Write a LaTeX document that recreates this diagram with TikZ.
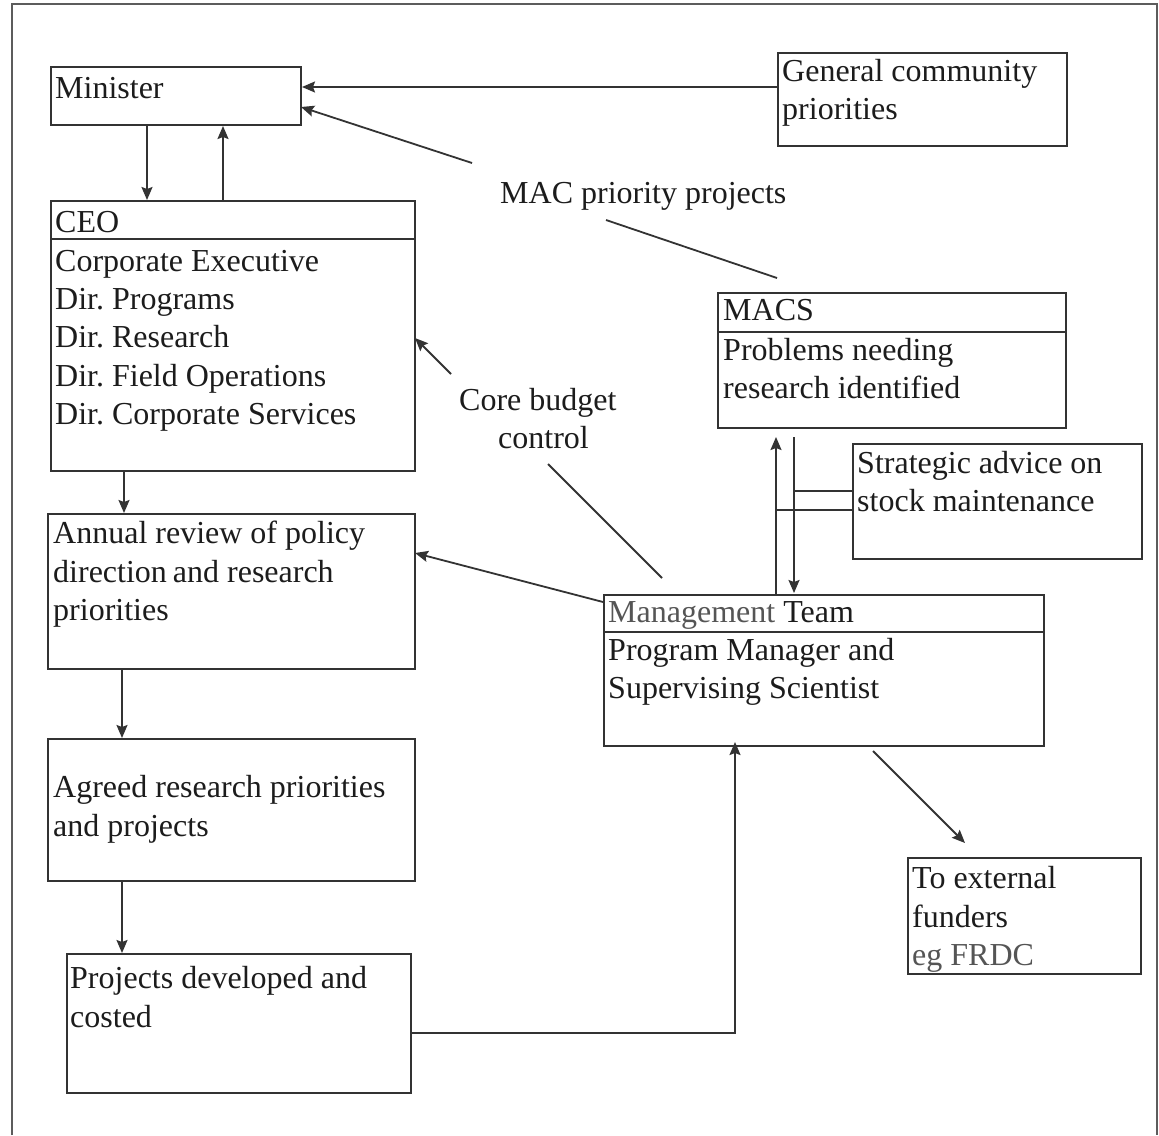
\documentclass[tikz,border=0pt]{standalone}
\usepackage{fontspec}
\setmainfont{Liberation Serif}
\usetikzlibrary{arrows.meta}
\definecolor{linec}{HTML}{333333}
\definecolor{textc}{HTML}{1C1C1C}
\definecolor{grayt}{HTML}{555555}
\frenchspacing
\begin{document}
\begin{tikzpicture}[x=1pt,y=-1pt,
  box/.style={draw=linec,line width=2pt,inner sep=0pt,anchor=north west},
  txt/.style={inner sep=0pt,anchor=base west,text=textc,font=\fontsize{32}{38}\selectfont},
  arr/.style={draw=linec,line width=1.8pt,-{Stealth[length=13pt,width=11pt,inset=2pt]}},
  ln/.style={draw=linec,line width=1.8pt},
  frame/.style={draw=linec!80,line width=1.6pt}]
\useasboundingbox (0,0) rectangle (1159,1135);
\fill[white] (0,0) rectangle (1159,1135);
% outer frame
\coordinate (fBL) at (12,1135);
\coordinate (fTL) at (12,4);
\coordinate (fTR) at (1157,4);
\coordinate (fBR) at (1157,1135);
\draw[frame] (fBL) -- (fTL) -- (fTR) -- (fBR);

% boxes
\node[box,minimum width=250pt,minimum height=58pt] (minister) at (50,66) {};
\node[box,minimum width=289pt,minimum height=93pt] (general) at (777,52) {};
\node[box,minimum width=364pt,minimum height=270pt] (ceo) at (50,200) {};
\node[box,minimum width=367pt,minimum height=155pt] (annual) at (47,513) {};
\node[box,minimum width=367pt,minimum height=142pt] (agreed) at (47,738) {};
\node[box,minimum width=344pt,minimum height=139pt] (projects) at (66,953) {};
\node[box,minimum width=348pt,minimum height=135pt] (macs) at (717,292) {};
\node[box,minimum width=289pt,minimum height=115pt] (strategic) at (852,443) {};
\node[box,minimum width=440pt,minimum height=151pt] (mt) at (603,594) {};
\node[box,minimum width=233pt,minimum height=116pt] (external) at (907,857) {};

% header lines
\coordinate (ceoH) at (0,239);
\coordinate (macsH) at (0,332);
\coordinate (mtH) at (0,632);
\draw[ln] (ceo.west |- ceoH) -- (ceo.east |- ceoH);
\draw[ln] (macs.west |- macsH) -- (macs.east |- macsH);
\draw[ln] (mt.west |- mtH) -- (mt.east |- mtH);

% texts
\node[txt] (tmin) at (55,98) {Minister};
\node[txt] (tgen1) at (782,81) {General community};
\node[txt] (tgen2) at (782,119) {priorities};
\node[txt] (tceo0) at (55,232) {CEO};
\node[txt] (tceo1) at (55,271) {Corporate Executive};
\node[txt] (tceo2) at (55,309) {Dir. Programs};
\node[txt] (tceo3) at (55,347) {Dir. Research};
\node[txt] (tceo4) at (55,386) {Dir. Field Operations};
\node[txt] (tceo5) at (55,424) {Dir. Corporate Services};
\node[txt] (maclab) at (500,203) {MAC priority projects};
\node[txt] (tmacs0) at (723,320) {MACS};
\node[txt] (tmacs1) at (723,360) {Problems needing};
\node[txt] (tmacs2) at (723,398) {research identified};
\node[txt] (core1) at (459,410) {Core budget};
\node[txt] (core2) at (498,448) {control};
\node[txt] (tstr1) at (857,473) {Strategic advice on};
\node[txt] (tstr2) at (857,511) {stock maintenance};
\node[txt] (tann1) at (53,543) {Annual review of policy};
\node[txt] (tann2) at (53,582) {direction\hspace{-2pt} and research};
\node[txt] (tann3) at (53,620) {priorities};
\node[txt] (tmt0) at (608,622) {\textcolor{grayt}{Management} Team};
\node[txt] (tmt1) at (608,660) {Program Manager and};
\node[txt] (tmt2) at (608,698) {Supervising Scientist};
\node[txt] (tagr1) at (53,797) {Agreed research priorities};
\node[txt] (tagr2) at (53,836) {and projects};
\node[txt] (tpro1) at (70,988) {Projects developed and};
\node[txt] (tpro2) at (70,1027) {costed};
\node[txt] (text1) at (912,888) {To external};
\node[txt] (text2) at (912,927) {funders};
\node[txt,text=grayt] (text3) at (912,965) {eg FRDC};

% connector helper coordinates
\coordinate (x147) at (147,0);
\coordinate (x223) at (223,0);
\coordinate (y87) at (0,87);
\coordinate (x124) at (124,0);
\coordinate (x122) at (122,0);
\coordinate (y1033) at (0,1033);
\coordinate (x735) at (735,0);
\coordinate (x776) at (776,0);
\coordinate (x794) at (794,0);
\coordinate (y491) at (0,491);
\coordinate (y510) at (0,510);
\coordinate (macA) at (472,163);
\coordinate (minIn) at (301,107);
\coordinate (macB) at (606,220);
\coordinate (macC) at (777,278);
\coordinate (coreA) at (451,374);
\coordinate (ceoIn) at (415,338);
\coordinate (coreB) at (548,464);
\coordinate (coreC) at (662,578);
\coordinate (mtOut) at (603,602);
\coordinate (annIn) at (415,553);
\coordinate (mtOut2) at (873,751);
\coordinate (extIn) at (965,843);

% connectors
\draw[arr] (minister.south -| x147) -- (ceo.north -| x147);
\draw[arr] (ceo.north -| x223) -- (minister.south -| x223);
\draw[arr] (general.west |- y87) -- (minister.east |- y87);
\draw[arr] (macA) -- (minIn);
\draw[ln] (macB) -- (macC);
\draw[arr] (coreA) -- (ceoIn);
\draw[ln] (coreB) -- (coreC);
\draw[arr] (mtOut) -- (annIn);
\draw[arr] (ceo.south -| x124) -- (annual.north -| x124);
\draw[arr] (annual.south -| x122) -- (agreed.north -| x122);
\draw[arr] (agreed.south -| x122) -- (projects.north -| x122);
\draw[arr,shorten >=-5pt] (projects.east |- y1033) -| (mt.south -| x735);
\draw[arr,shorten >=8pt] (mt.north -| x776) -- (macs.south -| x776);
\draw[arr,shorten <=8pt,shorten >=1pt] (macs.south -| x794) -- (mt.north -| x794);
\draw[ln] (x794 |- y491) -- (strategic.west |- y491);
\draw[ln] (x776 |- y510) -- (strategic.west |- y510);
\draw[arr] (mtOut2) -- (extIn);
\end{tikzpicture}
\end{document}
